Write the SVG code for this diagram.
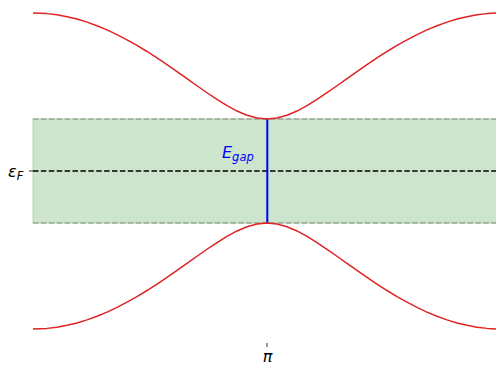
<svg xmlns="http://www.w3.org/2000/svg" width="496" height="367" viewBox="0 0 496 367">
<style>
.band{fill:none;stroke:#e02222;stroke-width:1.5;stroke-linejoin:round}
.edge{stroke:#7f7f7f;stroke-width:1.2;stroke-dasharray:5.5 2.4;opacity:0.9}
.fermi{stroke:#000;stroke-width:1.5;stroke-dasharray:5.5 2.4}
.lbl{font-family:"DejaVu Sans",sans-serif;font-style:italic}
.tick{stroke:#000;stroke-width:0.8}
</style>
<rect width="496" height="367" fill="#fff"/>
<g id="gap-region">
<rect x="33" y="119" width="470" height="104" fill="#cce5cc" stroke="#b3d6b3" stroke-width="1"/>
</g>
<g id="connectors">
<line class="edge" x1="33" y1="119" x2="496" y2="119"/>
<line class="edge" x1="33" y1="223" x2="496" y2="223"/>
<line class="fermi" x1="33" y1="171" x2="496" y2="171"/>
<line x1="267.3" y1="119" x2="267.3" y2="223" stroke="#0000ff" stroke-width="2"/>
</g>
<g id="conduction-band">
<polyline class="band" points="33,13 47,13.62 57,14.82 67,16.65 77,19.08 87,22.12 97,25.73 107,29.91 117,34.59 127,39.82 137,45.43 147,51.49 157,57.91 167,64.61 177,71.57 187,78.65 197,85.75 207,92.74 217,99.45 227,105.65 237,111.05 247,115.3 257,118.05 267,119 277,118.05 287,115.3 297,111.05 307,105.65 317,99.45 327,92.74 337,85.75 347,78.65 357,71.57 367,64.61 377,57.91 387,51.49 397,45.43 407,39.82 417,34.59 427,29.91 437,25.73 447,22.12 457,19.08 467,16.65 477,14.82 487,13.62 496,13.08"/>
</g>
<g id="valence-band">
<polyline class="band" transform="matrix(1 0 0 -1 0 342)" points="33,13 47,13.62 57,14.82 67,16.65 77,19.08 87,22.12 97,25.73 107,29.91 117,34.59 127,39.82 137,45.43 147,51.49 157,57.91 167,64.61 177,71.57 187,78.65 197,85.75 207,92.74 217,99.45 227,105.65 237,111.05 247,115.3 257,118.05 267,119 277,118.05 287,115.3 297,111.05 307,105.65 317,99.45 327,92.74 337,85.75 347,78.65 357,71.57 367,64.61 377,57.91 387,51.49 397,45.43 407,39.82 417,34.59 427,29.91 437,25.73 447,22.12 457,19.08 467,16.65 477,14.82 487,13.62 496,13.08"/>
</g>
<g id="egap-label">
<text class="lbl" x="222" y="158" font-size="16" fill="#0000ff">E<tspan font-size="11.5" dy="3">gap</tspan></text>
</g>
<g id="fermi-label">
<line class="tick" x1="29" y1="171" x2="33" y2="171"/>
<text class="lbl" x="8" y="177" font-size="16" fill="#000">ε<tspan font-size="11.5" dy="3">F</tspan></text>
</g>
<g id="pi-label">
<line class="tick" x1="267" y1="343" x2="267" y2="347"/>
<text class="lbl" x="267.5" y="362" font-size="16" fill="#000" text-anchor="middle">π</text>
</g>
</svg>
